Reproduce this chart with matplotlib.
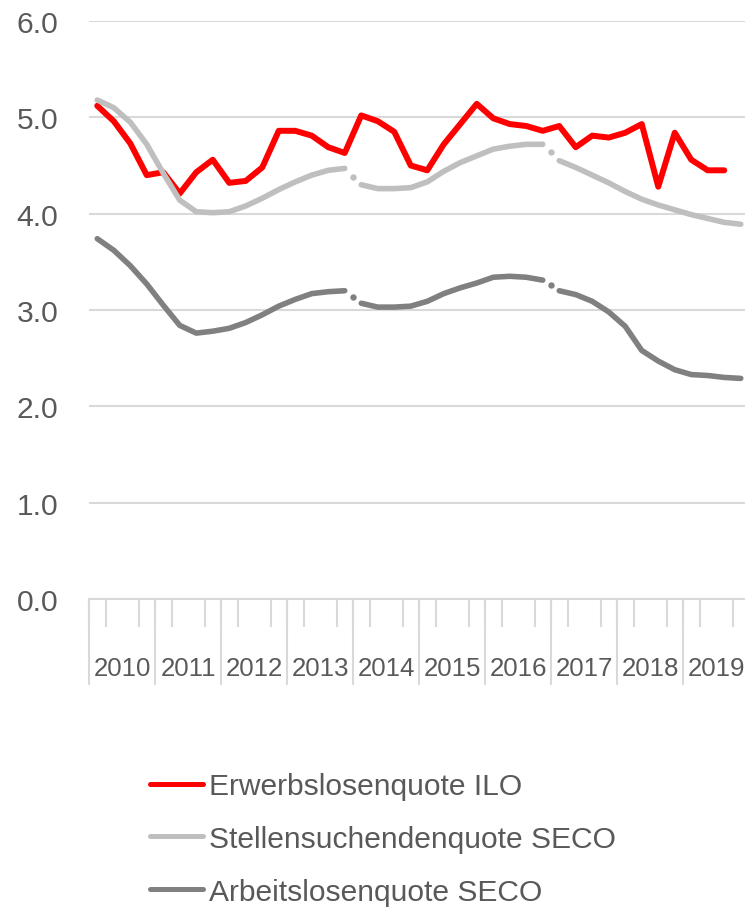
import numpy as np
import matplotlib
matplotlib.use("Agg")
import matplotlib.pyplot as plt
from matplotlib.lines import Line2D
from matplotlib.ticker import NullLocator, FixedLocator

# ---------------- data (quarterly, Q1 2010 - Q4 2019) ----------------
years = [str(y) for y in range(2010, 2020)]
quarters_per_year = 4

ilo = [5.12, 4.96, 4.73, 4.40,
       4.43, 4.21, 4.43, 4.56,
       4.32, 4.34, 4.48, 4.86,
       4.86, 4.81, 4.69, 4.63,
       5.02, 4.96, 4.85, 4.50,
       4.45, 4.72, 4.93, 5.14,
       4.99, 4.93, 4.91, 4.86,
       4.91, 4.69, 4.81, 4.79,
       4.84, 4.93, 4.28, 4.84,
       4.56, 4.45, 4.45, np.nan]

stellen = [5.18, 5.10, 4.95, 4.72,
           4.42, 4.14, 4.02, 4.01,
           4.02, 4.08, 4.16, 4.25,
           4.33, 4.40, 4.45, 4.47,
           4.30, 4.26, 4.26, 4.27,
           4.33, 4.44, 4.53, 4.60,
           4.67, 4.70, 4.72, 4.72,
           4.55, 4.48, 4.40, 4.32,
           4.23, 4.15, 4.09, 4.04,
           3.99, 3.95, 3.91, 3.89]

arbeit = [3.74, 3.62, 3.46, 3.27,
          3.05, 2.84, 2.76, 2.78,
          2.81, 2.87, 2.95, 3.04,
          3.11, 3.17, 3.19, 3.20,
          3.07, 3.03, 3.03, 3.04,
          3.09, 3.17, 3.23, 3.28,
          3.34, 3.35, 3.34, 3.31,
          3.20, 3.16, 3.09, 2.98,
          2.83, 2.58, 2.47, 2.38,
          2.33, 2.32, 2.30, 2.29]

# quarter indices where the SECO series start a new segment (series break)
series_breaks = [16, 28]

labels = ["Erwerbslosenquote ILO", "Stellensuchendenquote SECO", "Arbeitslosenquote SECO"]
y_ticks = [0, 1, 2, 3, 4, 5, 6]

# ---------------- styling ----------------
RED = "#FF0000"
LIGHT = "#BFBFBF"
DARK = "#808080"
GRID = "#D9D9D9"
TXT = "#595959"
FS = 21.6
FS_X = 18.6
REG = ["Liberation Sans", "DejaVu Sans"]

W, H = 745, 912
fig = plt.figure(figsize=(W / 100, H / 100), dpi=100)
ax = fig.add_axes([89 / W, 1 - 600 / H, 660 / W, 578 / H])

n = len(stellen)
x = np.arange(n)

ax.plot(x, ilo, color=RED, lw=4.3, solid_joinstyle="round", solid_capstyle="round", zorder=3)

bounds = [0] + series_breaks + [n]
for vals, col in [(stellen, LIGHT), (arbeit, DARK)]:
    v = np.array(vals)
    for a, b in zip(bounds[:-1], bounds[1:]):
        ax.plot(x[a:b], v[a:b], color=col, lw=4.0, solid_joinstyle="round",
                solid_capstyle="round", zorder=3)
    for b in series_breaks:
        ax.plot([(x[b - 1] + x[b]) / 2], [(v[b - 1] + v[b]) / 2], "o", color=col,
                ms=4.6, mew=0, zorder=3)

ax.set_xlim(-0.5, n - 0.5)
ax.set_ylim(0, 6)

for s in ["top", "right", "left"]:
    ax.spines[s].set_visible(False)
ax.spines["bottom"].set_color(GRID)
ax.spines["bottom"].set_linewidth(1.5)

ax.set_yticks(y_ticks)
ax.set_yticklabels([f"{t:.1f}" for t in y_ticks])
ax.yaxis.grid(True, color=GRID, lw=1.5)
ax.set_axisbelow(True)
ax.tick_params(axis="y", length=0, pad=22, labelsize=FS, labelcolor=TXT)
for lab in ax.get_yticklabels():
    lab.set_family(REG)

year_centers = np.arange(len(years)) * quarters_per_year + (quarters_per_year - 1) / 2
ax.set_xticks(year_centers)
ax.set_xticklabels(years)
ax.set_xticks(np.arange(n + 1) - 0.5, minor=True)
ax.tick_params(axis="x", which="major", length=0, pad=41, labelsize=FS_X, labelcolor=TXT)
ax.tick_params(axis="x", which="minor", length=20, width=1.5, color=GRID)
for lab in ax.get_xticklabels():
    lab.set_family(REG)

sec = ax.secondary_xaxis("bottom")
sec.xaxis.set_major_locator(FixedLocator(np.arange(len(years) + 1) * quarters_per_year - 0.5))
sec.xaxis.set_minor_locator(NullLocator())
sec.tick_params(axis="x", length=62, width=1.5, color=GRID, labelbottom=False)
for s in sec.spines.values():
    s.set_visible(False)

handles = [Line2D([], [], color=RED, lw=3.6, solid_capstyle="round"),
           Line2D([], [], color=LIGHT, lw=3.6, solid_capstyle="round"),
           Line2D([], [], color=DARK, lw=3.6, solid_capstyle="round")]
leg = fig.legend(handles, labels, loc="upper left", bbox_to_anchor=(150 / W, 1 - 773 / H),
                 frameon=False, prop={"family": REG, "size": FS}, labelcolor=TXT,
                 handlelength=1.77, handletextpad=0.2, labelspacing=0.83,
                 borderpad=0, borderaxespad=0)

fig.savefig("out.png", dpi=100)
